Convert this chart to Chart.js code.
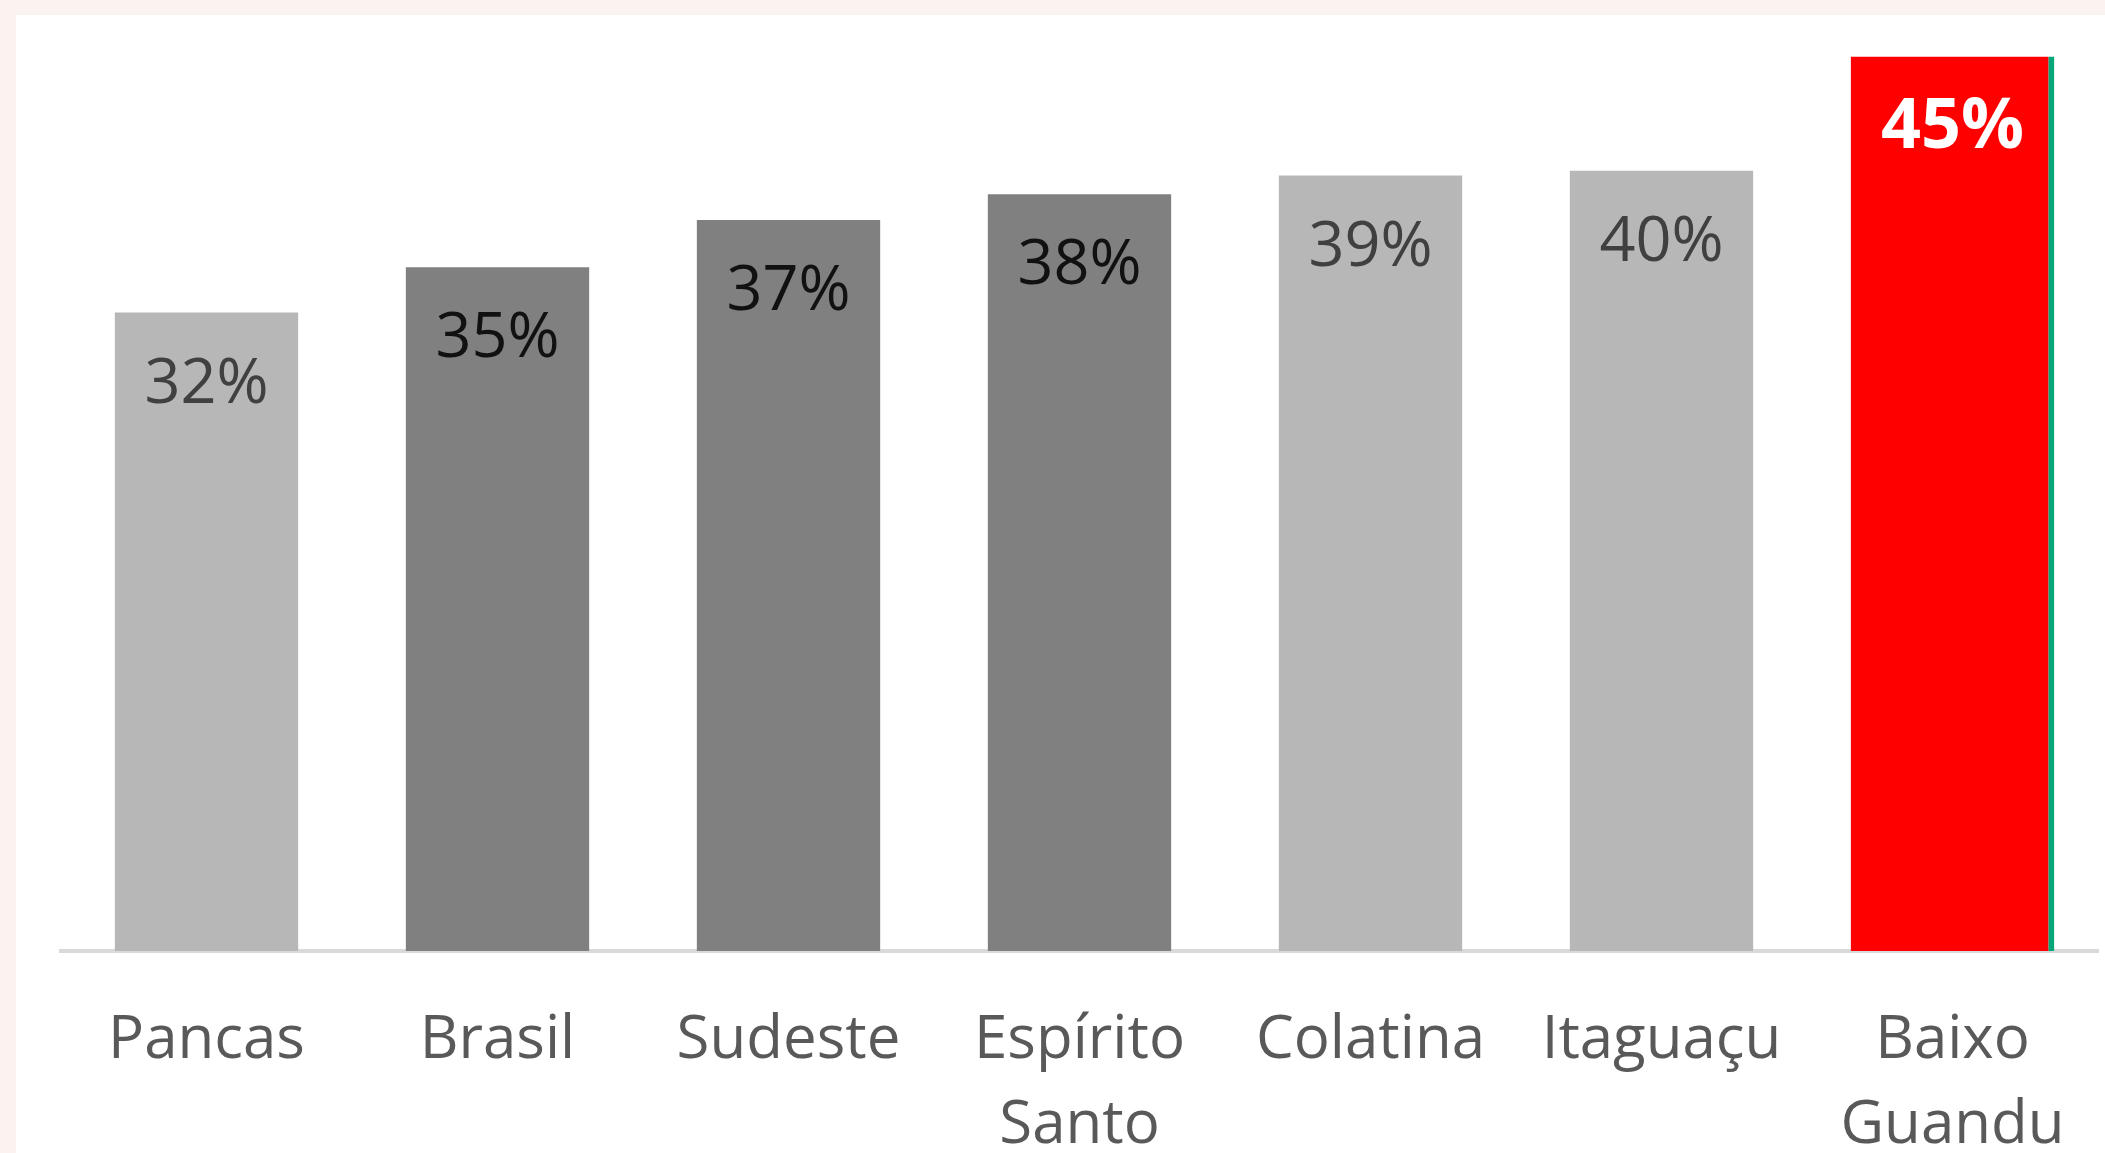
<!DOCTYPE html>
<html>
<head>
<meta charset="utf-8">
<script src="https://cdn.jsdelivr.net/npm/chart.js@4"></script>
<style>
  body { margin: 0; background: #fbf3f0; overflow: hidden; }
  #panel { position: absolute; left: 16px; top: 15px; width: 2089px; height: 1138px; background: #ffffff; }
  canvas { display: block; }
</style>
</head>
<body>
<div id="panel"><canvas id="chart" width="2089" height="1138"></canvas></div>
<script>
const categories = ["Pancas", "Brasil", "Sudeste", ["Espírito", "Santo"], "Colatina", "Itaguaçu", ["Baixo", "Guandu"]];
const shares = [32.4, 34.7, 37.1, 38.4, 39.35, 39.6, 45.4];
const highlightIndex = 6;
const barColors = ["#b7b7b7", "#808080", "#808080", "#808080", "#b7b7b7", "#b7b7b7", "#ff0000"];
const labelColors = ["#404040", "#111111", "#111111", "#111111", "#404040", "#404040", "#ffffff"];

const grayData = shares.map((v, i) => (i === highlightIndex ? null : v));
const redData = shares.map((v, i) => (i === highlightIndex ? v : null));

// value labels inside the top of each bar
const valueLabels = {
  id: "valueLabels",
  afterDatasetsDraw(chart) {
    const ctx = chart.ctx;
    chart.data.datasets.forEach((ds, di) => {
      const meta = chart.getDatasetMeta(di);
      meta.data.forEach((bar, i) => {
        if (ds.data[i] == null) return;
        const hi = i === highlightIndex;
        ctx.save();
        ctx.font = hi ? "bold 70px 'Open Sans'" : "500 63px 'Open Sans'";
        ctx.fillStyle = labelColors[i];
        ctx.textAlign = "center";
        ctx.textBaseline = "middle";
        ctx.fillText(Math.round(ds.data[i]) + "%", bar.x, bar.y + 72);
        ctx.restore();
      });
    });
  },
};

new Chart(document.getElementById("chart"), {
  type: "bar",
  data: {
    labels: categories,
    datasets: [
      {
        data: grayData,
        backgroundColor: barColors,
        categoryPercentage: 1,
        barPercentage: 0.63,
        grouped: false,
      },
      {
        data: redData,
        backgroundColor: "#ff0000",
        borderColor: "#08a77a",
        borderWidth: { top: 0, left: 0, bottom: 0, right: 6 },
        borderSkipped: false,
        categoryPercentage: 1,
        barPercentage: 0.7,
        grouped: false,
      },
    ],
  },
  options: {
    responsive: false,
    animation: false,
    layout: { padding: { left: 45, right: 7, top: 0, bottom: 0 } },
    plugins: { legend: { display: false }, tooltip: { enabled: false } },
    scales: {
      x: {
        grid: { display: false, drawTicks: false },
        border: { display: true, color: "#d9d9d9", width: 4 },
        ticks: {
          color: "#595959",
          font: { family: "'Open Sans'", size: 60, lineHeight: 1.42 },
          padding: 47,
          maxRotation: 0,
          autoSkip: false,
        },
        afterFit: (scale) => {
          scale.height = 202;
          scale.paddingLeft = 0;
          scale.paddingRight = 0;
        },
      },
      y: { display: false, min: 0, max: 47.5 },
    },
  },
  plugins: [valueLabels],
});
</script>
</body>
</html>
